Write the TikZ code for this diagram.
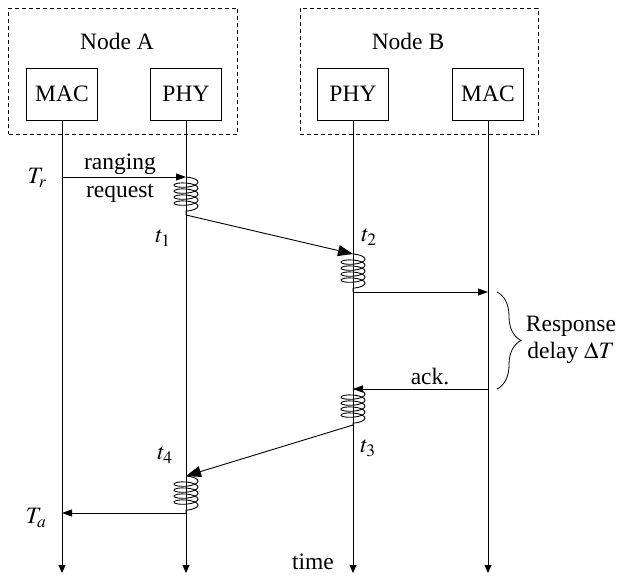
\documentclass[tikz,border=0pt]{standalone}
\usepackage{mathptmx}
\usepackage[no-math]{fontspec}
\setmainfont{Liberation Serif}
\usetikzlibrary{arrows.meta,decorations.pathmorphing,decorations.pathreplacing,calc}

\begin{document}
\begin{tikzpicture}[x = 1pt, y = -1pt, font = \fontsize{23.5pt}{27pt}\selectfont,
  layer/.style = {draw, line width = 0.8pt, minimum width = 71pt, minimum height = 52pt, inner sep = 0pt},
  group/.style = {draw, dash pattern = on 4pt off 3pt, line width = 0.8pt, minimum height = 126pt, inner sep = 0pt},
  lifeline/.style = {line width = 0.9pt, -{Triangle[length = 8pt, width = 7pt]}},
  msg/.style = {line width = 0.9pt, -{Triangle[length = 10pt, width = 7pt]}},
  hop/.style = {line width = 0.9pt, -{Triangle[length = 15pt, width = 11pt]}},
  spring/.style = {line width = 0.9pt, decorate, decoration = {coil, amplitude = 12pt, segment length = 6pt, aspect = 0.3}}]
  \useasboundingbox (0,0) rectangle (618,577);
  % the two stations
  \node[group, minimum width = 229pt] (nodeA) at (123,71) {};
  \node[group, minimum width = 238pt] (nodeB) at (419,71) {};
  \node (labA) at (117,41) {Node A};
  \node (labB) at (408,41) {Node B};
  \node[layer] (macA) at (62,94) {MAC};
  \node[layer] (phyA) at (186,94) {PHY};
  \node[layer] (phyB) at (353,94) {PHY};
  \node[layer] (macB) at (488,94) {MAC};
  % time axes
  \coordinate (macAend) at (62,573);
  \coordinate (phyAend) at (186,573);
  \coordinate (phyBend) at (353,573);
  \coordinate (macBend) at (488,573);
  \draw[lifeline] (macA.south) -- (macAend);
  \draw[lifeline] (phyA.south) -- (phyAend);
  \draw[lifeline] (phyB.south) -- (phyBend);
  \draw[lifeline] (macB.south) -- (macBend);
  % events
  \coordinate (tr) at (62,177);
  \coordinate (rqA) at (186,177);
  \coordinate (t1) at (186,215);
  \coordinate (t2) at (353,254);
  \coordinate (rxB) at (353,292);
  \coordinate (rxM) at (488,292);
  \coordinate (ackM) at (488,389);
  \coordinate (ackB) at (353,389);
  \coordinate (t3) at (353,425);
  \coordinate (t4) at (186,476);
  \coordinate (ta) at (186,513);
  \coordinate (taM) at (62,513);
  % processing delays
  \draw[spring] (rqA) -- (t1);
  \draw[spring] (t2) -- (rxB);
  \draw[spring] (ackB) -- (t3);
  \draw[spring] (t4) -- (ta);
  % messages
  \draw[msg] (tr) -- (rqA);
  \draw[hop] (t1) -- (t2);
  \draw[msg] (rxB) -- (rxM);
  \draw[msg] (ackM) -- (ackB);
  \draw[hop] (t3) -- (t4);
  \draw[msg] (ta) -- (taM);
  \draw[line width = 0.8pt, decorate, decoration = {brace, amplitude = 24pt}] (497,292) -- (497,389);
  % labels
  \node (lTr) at (37,178) {$T_r$};
  \node (lt1) at (163,238) {$t_1$};
  \node (lt2) at (369,237) {$t_2$};
  \node (lt3) at (368,448) {$t_3$};
  \node (lt4) at (165,455) {$t_4$};
  \node (lTa) at (36,518) {$T_a$};
  \node (lrng) at (120,164) {ranging};
  \node (lreq) at (120,193) {request};
  \node (lack) at (430,377) {ack.};
  \node[align = center] (ldelay) at (571,340) {Response\\delay $\Delta T$};
  \node (ltime) at (313,562) {time};
\end{tikzpicture}
\end{document}
